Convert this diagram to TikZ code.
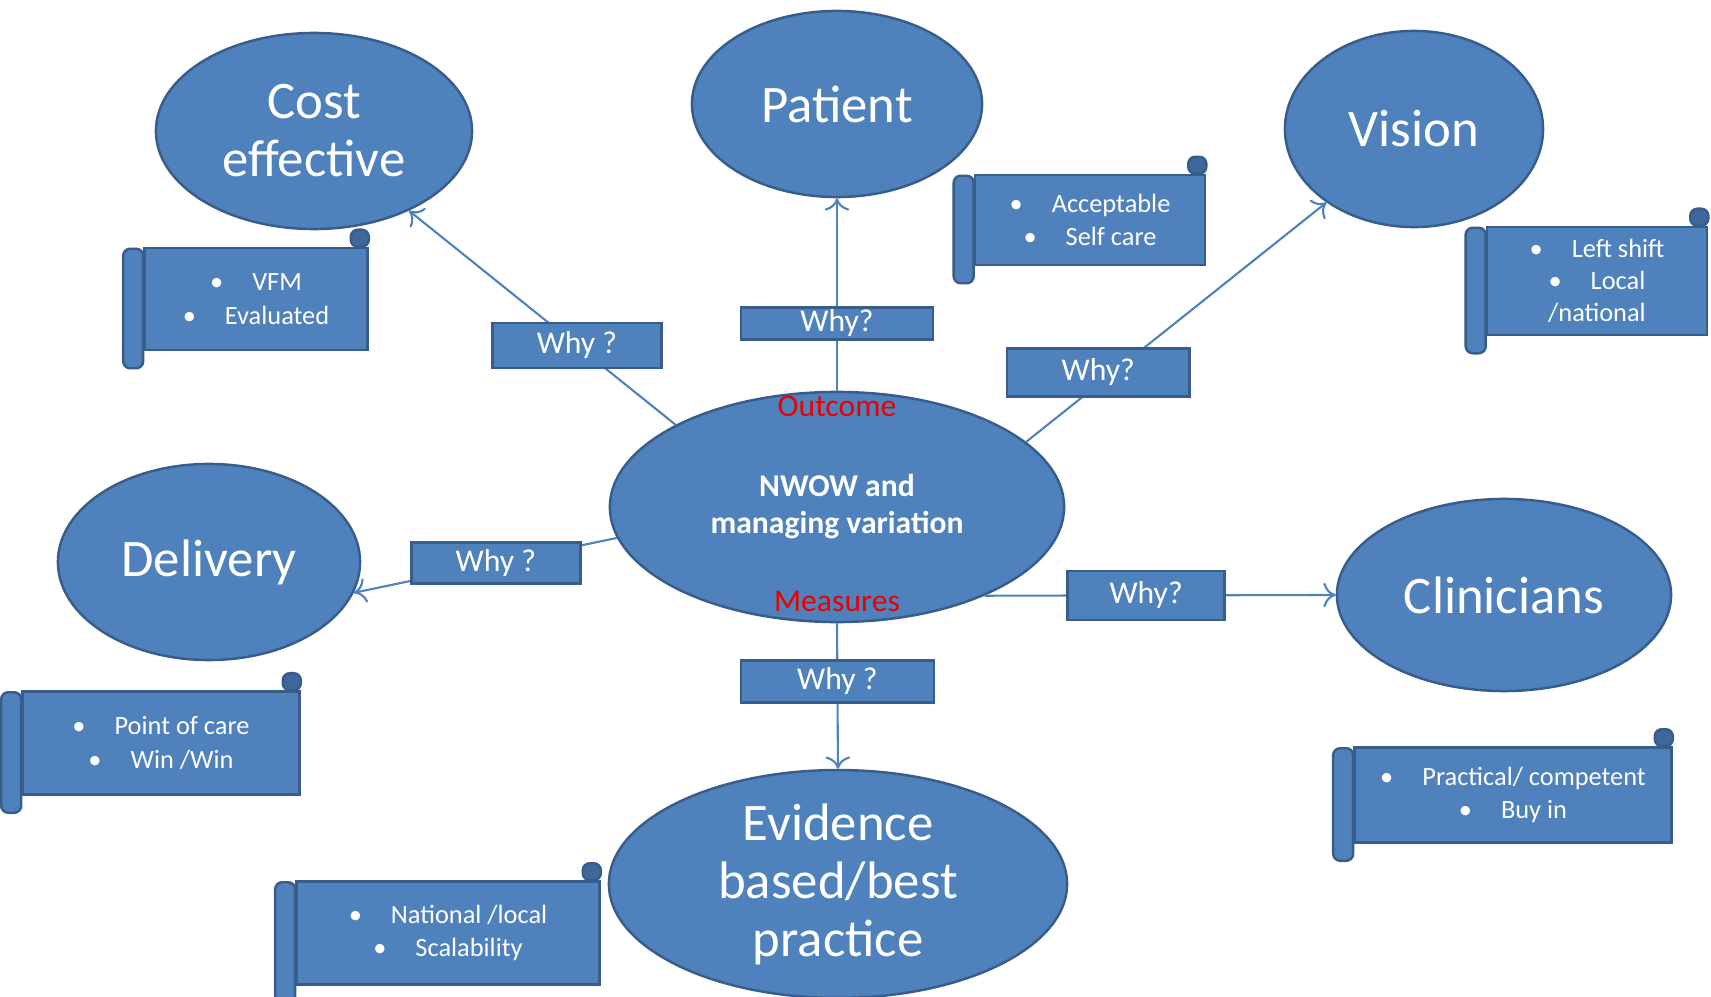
\documentclass[tikz,border=0pt]{standalone}
\usepackage{fontspec}
\setmainfont{Carlito}
\usetikzlibrary{positioning,shapes.geometric,arrows.meta}

\definecolor{oval}{RGB}{79,129,189}
\definecolor{ovaledge}{RGB}{56,93,138}
\definecolor{rolldark}{RGB}{62,104,154}
\definecolor{tagred}{RGB}{235,0,0}

% rolled left edge and curled top right corner of a scroll node
\newcommand{\scrollends}[1]{%
  \draw[rollpart] ([shift={(-0.2cm,-0.02cm)}]#1.north west) rectangle ([shift={(0cm,-0.17cm)}]#1.south west);
  \draw[curlpart] ([xshift=-0.18cm]#1.north east) rectangle ([yshift=0.17cm]#1.north east);
}

\begin{document}
\begin{tikzpicture}[
  x=0.01cm, y=-0.01cm,
  bubble/.style={ellipse, draw=ovaledge, line width=0.7pt, fill=oval, inner sep=0pt,
                 text=white, align=center, font=\fontsize{15}{16.5}\selectfont},
  hub/.style={bubble, font=\fontsize{9}{10.5}\selectfont\bfseries},
  why/.style={rectangle, draw=ovaledge, line width=0.7pt, fill=oval, text=white,
              inner sep=0pt, font=\fontsize{9}{10}\selectfont},
  scroll/.style={rectangle, draw=ovaledge, line width=0.7pt, fill=oval, text=white,
                 inner sep=0pt, align=center, font=\fontsize{7.5}{9.5}\selectfont},
  rollpart/.style={draw=ovaledge, line width=0.7pt, fill=oval, rounded corners=0.07cm},
  curlpart/.style={draw=ovaledge, line width=0.7pt, fill=rolldark, rounded corners=0.07cm},
  tag/.style={text=tagred, inner sep=0pt, font=\fontsize{9}{10}\selectfont},
  arrow/.style={draw=oval, line width=0.6pt, -{To[length=3.5pt,width=7pt]}}
]
\useasboundingbox (0,0) rectangle (1711,997);

% ovals
\node[hub, minimum width=4.54cm, minimum height=2.30cm] (nwow) at (837,507) {NWOW and\\managing variation};
\node[bubble, minimum width=3.16cm, minimum height=1.96cm] (cost) at (314,131) {Cost\\effective};
\node[bubble, minimum width=2.90cm, minimum height=1.86cm] (patient) at (837,104) {Patient};
\node[bubble, minimum width=2.58cm, minimum height=1.96cm] (vision) at (1414,129) {Vision};
\node[bubble, minimum width=3.02cm, minimum height=1.96cm] (delivery) at (209,562) {Delivery};
\node[bubble, minimum width=3.34cm, minimum height=1.92cm] (clinicians) at (1504,595) {Clinicians};
\node[bubble, minimum width=4.58cm, minimum height=2.14cm] (evidence) at (838,884) {Evidence\\based/best\\practice};

\node[tag] (outcome) at ([yshift=-0.16cm]nwow.north) {Outcome};
\node[tag] (measures) at ([yshift=0.22cm]nwow.south) {Measures};

% connectors with their why boxes
\draw[arrow] (nwow.153) -- node[why, pos=.37, minimum width=1.69cm, minimum height=0.45cm] (whycost) {Why ?} (cost.-40);
\draw[arrow] (nwow.north) -- node[why, pos=.35, minimum width=1.92cm, minimum height=0.32cm] (whypatient) {Why?} (patient.south);
\draw[arrow] (nwow.19) -- node[why, pos=.29, xshift=-0.15cm, minimum width=1.82cm, minimum height=0.48cm] (whyvision) {Why?} (vision.220);
\draw[arrow] (nwow.188) -- node[why, pos=.46, minimum width=1.69cm, minimum height=0.41cm] (whydelivery) {Why ?} (delivery.-12);
\draw[arrow] (nwow.-31) -- node[why, pos=.46, minimum width=1.57cm, minimum height=0.49cm] (whyclinicians) {Why?} (clinicians.west);
\draw[arrow] (nwow.south) -- node[why, pos=.4, minimum width=1.93cm, minimum height=0.42cm] (whyevidence) {Why ?} (evidence.north);

% scrolls
\node[scroll, minimum width=2.23cm, minimum height=1.02cm] (costnote) at (256,299)
  {\textbullet\hspace{1.1em}VFM\\\textbullet\hspace{1.1em}Evaluated};
\scrollends{costnote}
\node[scroll, minimum width=2.30cm, minimum height=0.90cm] (patientnote) at (1090,220)
  {\textbullet\hspace{1.1em}Acceptable\\\textbullet\hspace{1.1em}Self care};
\scrollends{patientnote}
\node[scroll, minimum width=2.20cm, minimum height=1.08cm, font=\fontsize{7.5}{9}\selectfont] (visionnote) at (1597,281)
  {\textbullet\hspace{1.1em}Left shift\\\textbullet\hspace{1.1em}Local\\/national};
\scrollends{visionnote}
\node[scroll, minimum width=2.77cm, minimum height=1.03cm] (deliverynote) at (161,743)
  {\textbullet\hspace{1.1em}Point of care\\\textbullet\hspace{1.1em}Win /Win};
\scrollends{deliverynote}
\node[scroll, minimum width=3.17cm, minimum height=0.95cm] (cliniciansnote) at (1513,795)
  {\textbullet\hspace{1.1em}Practical/ competent\\\textbullet\hspace{1.1em}Buy in};
\scrollends{cliniciansnote}
\node[scroll, minimum width=3.03cm, minimum height=1.03cm] (evidencenote) at (448,933)
  {\textbullet\hspace{1.1em}National /local\\\textbullet\hspace{1.1em}Scalability};
\scrollends{evidencenote}
\end{tikzpicture}
\end{document}
